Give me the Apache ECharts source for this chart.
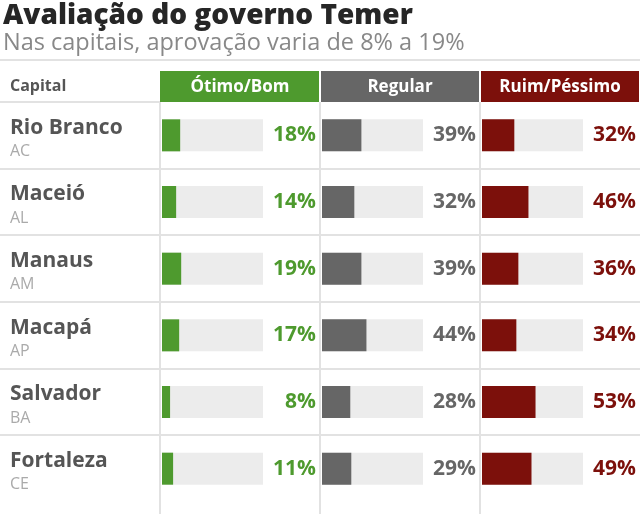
<!DOCTYPE html>
<html><head><meta charset="utf-8">
<script src="https://cdn.jsdelivr.net/npm/echarts@6/dist/echarts.min.js"></script>
<style>html,body{margin:0;padding:0;background:#fff}#c{width:640px;height:514px}</style>
</head><body><div id="c"></div>
<script>
var cities = ['Rio Branco','Maceió','Manaus','Macapá','Salvador','Fortaleza'];
var states = ['AC','AL','AM','AP','BA','CE'];
var columns = ['Ótimo/Bom','Regular','Ruim/Péssimo'];
var otimoBom = [18,14,19,17,8,11];
var regular = [39,32,39,44,28,29];
var ruimPessimo = [32,46,36,34,53,49];

var FONT = '"Open Sans", sans-serif';
var colors = ['#4e9a2e','#666666','#7c100b'];
var colLeft = [160,320,480];
var rowTop = 102, rowH = 66.67;
var seriesData = [otimoBom, regular, ruimPessimo];

var grids = [], xAxes = [], yAxes = [], series = [];
for (var i = 0; i < 3; i++) {
  grids.push({left: colLeft[i] + 2, top: rowTop, width: 101, height: rowH * 6});
  xAxes.push({type: 'value', gridIndex: i, min: 0, max: 100, show: false});
  yAxes.push({
    type: 'category', gridIndex: i, data: cities, inverse: true,
    axisLine: {show: false}, axisTick: {show: false}, splitLine: {show: false},
    axisLabel: i === 0 ? {
      show: true, align: 'left', margin: 152, padding: [7,0,0,0],
      formatter: function (v, idx) { return '{a|' + v + '}\n{b|' + states[idx] + '}'; },
      rich: {
        a: {fontFamily: FONT, fontWeight: 'bold', fontSize: 21, color: '#555', lineHeight: 25},
        b: {fontFamily: FONT, fontSize: 16, color: '#aaa', lineHeight: 22}
      }
    } : {show: false}
  });
  series.push({
    type: 'bar', xAxisIndex: i, yAxisIndex: i, data: seriesData[i],
    barWidth: 32, showBackground: true,
    backgroundStyle: {color: '#ececec'},
    itemStyle: {color: colors[i]},
    label: {
      show: true, position: [154, '50%'], align: 'right', verticalAlign: 'middle',
      formatter: '{c}%', fontFamily: FONT, fontWeight: 'bold', fontSize: 21,
      color: colors[i]
    },
    silent: true
  });
}

var lineStyle = {stroke: '#e2e2e2', lineWidth: 2};
var graphics = [
  {type: 'line', shape: {x1: 0, y1: 60, x2: 640, y2: 60}, style: lineStyle},
  {type: 'line', shape: {x1: 0, y1: 102, x2: 160, y2: 102}, style: lineStyle},
  {type: 'text', x: 10, y: 86, style: {text: 'Capital', font: 'bold 16px ' + FONT, fill: '#555', verticalAlign: 'middle'}}
];
for (var r = 1; r < 6; r++) {
  var y = Math.round(rowTop + rowH * r);
  graphics.push({type: 'line', shape: {x1: 0, y1: y, x2: 640, y2: y}, style: lineStyle});
}
for (var c = 0; c < 3; c++) {
  graphics.push({type: 'line', shape: {x1: colLeft[c], y1: 102, x2: colLeft[c], y2: 514}, style: lineStyle});
  graphics.push({
    type: 'rect', shape: {x: colLeft[c] + (c ? 1 : 0), y: 71, width: 159 - (c ? 1 : 0), height: 31},
    style: {fill: colors[c]}
  });
  graphics.push({
    type: 'text', x: colLeft[c] + 80, y: 87,
    style: {text: columns[c], font: 'bold 17px ' + FONT, fill: '#fff', align: 'center', verticalAlign: 'middle'}
  });
}

var chart = echarts.init(document.getElementById('c'));
chart.setOption({
  animation: false,
  backgroundColor: '#fff',
  title: {
    text: 'Avaliação do governo Temer',
    subtext: 'Nas capitais, aprovação varia de 8% a 19%',
    left: 3, top: 2, padding: 0, itemGap: 1,
    textStyle: {fontFamily: FONT, fontWeight: 800, fontSize: 28, color: '#262626'},
    subtextStyle: {fontFamily: FONT, fontSize: 23.5, color: '#888'}
  },
  grid: grids, xAxis: xAxes, yAxis: yAxes, series: series,
  graphic: graphics
});
</script></body></html>
